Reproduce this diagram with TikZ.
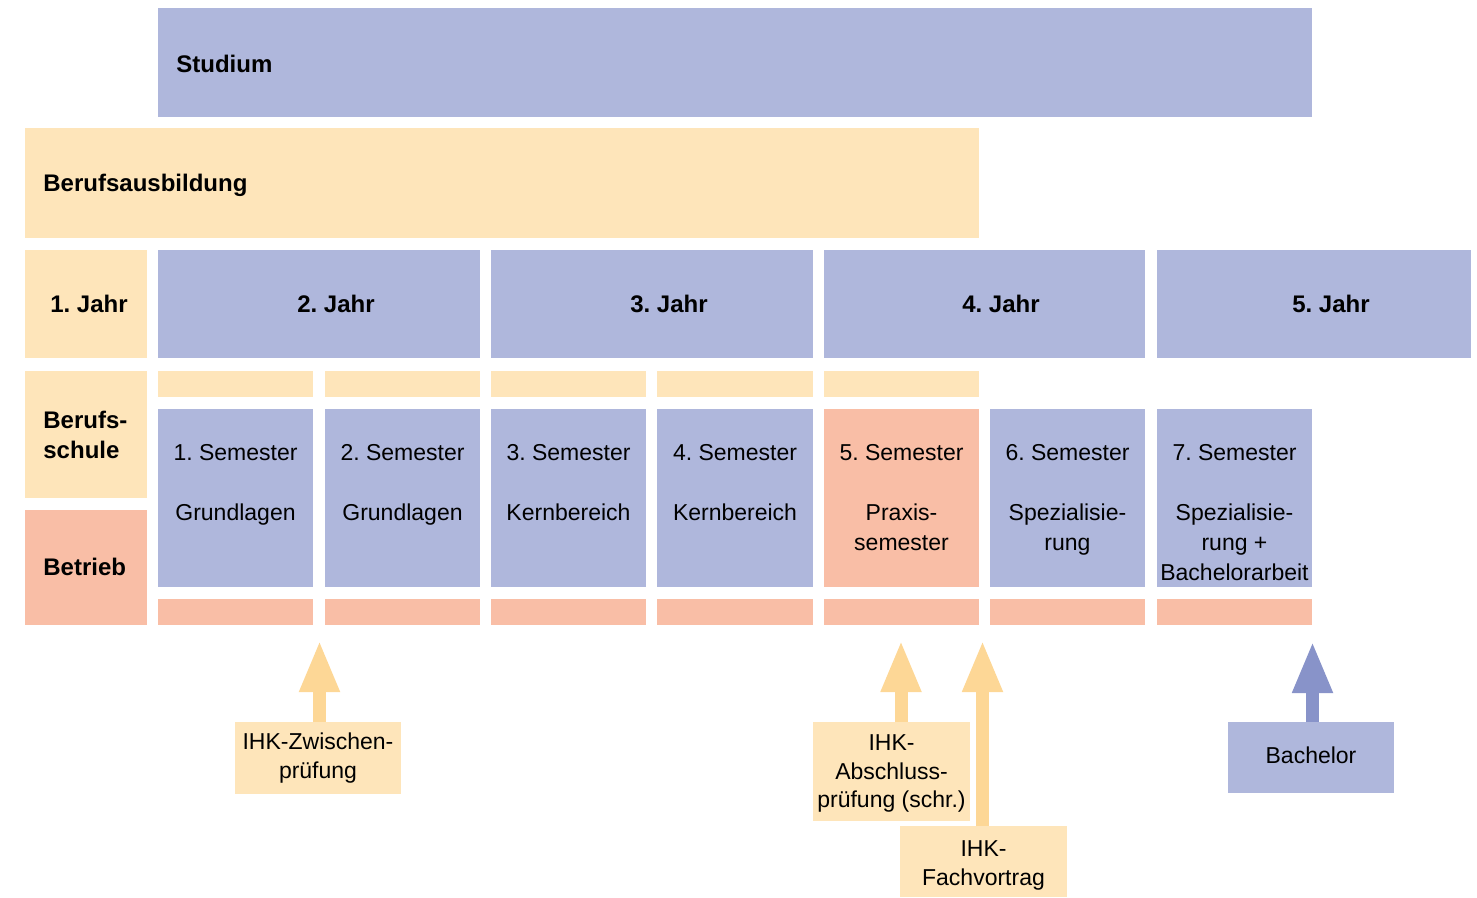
\documentclass[tikz,border=0pt]{standalone}
\usepackage{fontspec}
\setmainfont{Liberation Sans}
\usetikzlibrary{fit,arrows.meta}
\definecolor{blu}{HTML}{AFB7DC}
\definecolor{yel}{HTML}{FEE5BA}
\definecolor{sal}{HTML}{F9BEA6}
\definecolor{arrY}{HTML}{FDD796}
\definecolor{arrB}{HTML}{8893C9}
\newcommand\mybox[6]{\node[area, fill=#6, fit={(#2,#3) (#4,#5)}] (#1) {};}
\frenchspacing
\begin{document}
\begin{tikzpicture}[x=0.5pt,y=-0.5pt,
  area/.style={inner sep=0pt, outer sep=0pt, draw=none},
  boldlbl/.style={inner sep=0pt, font=\fontsize{12}{15}\selectfont\bfseries\frenchspacing, align=left},
  semtxt/.style={inner sep=0pt, font=\fontsize{11.5}{15}\selectfont\frenchspacing, align=center, anchor=north},
  lbltxt/.style={inner sep=0pt, font=\fontsize{11.5}{14.3}\selectfont\frenchspacing, align=center, anchor=north},
  yarrow/.style={draw=arrY, line width=6.5pt, -{Triangle[width=18.5pt,length=26pt]}},
  barrow/.style={draw=arrB, line width=6.5pt, -{Triangle[width=18.5pt,length=26pt]}}]
\useasboundingbox (0,0) rectangle (1477,898);

% top bands
\mybox{studium}{158}{8}{1312}{117}{blu}
\node[boldlbl, anchor=north west] (studiumt) at (176,51.5) {\strut Studium};
\mybox{ausb}{25}{128}{979}{238}{yel}
\node[boldlbl, anchor=north west] (ausbt) at (43,170) {\strut Berufsausbildung};

% years
\mybox{j1}{25}{250}{147}{358}{yel}
\mybox{j2}{158}{250}{480}{358}{blu}
\mybox{j3}{491}{250}{813}{358}{blu}
\mybox{j4}{824}{250}{1145}{358}{blu}
\mybox{j5}{1157}{250}{1471}{358}{blu}
\node[boldlbl, anchor=north] (j1t) at (89,291) {\strut 1. Jahr};
\node[boldlbl, anchor=north] (j2t) at (336,291) {\strut 2. Jahr};
\node[boldlbl, anchor=north] (j3t) at (669,291) {\strut 3. Jahr};
\node[boldlbl, anchor=north] (j4t) at (1001,291) {\strut 4. Jahr};
\node[boldlbl, anchor=north] (j5t) at (1331,291) {\strut 5. Jahr};

% left labels
\mybox{bs}{25}{371}{147}{498}{yel}
\node[boldlbl, anchor=north west] (bst) at (43,407) {\strut Berufs-\\schule};
\mybox{bt}{25}{510}{147}{625}{sal}
\node[boldlbl, anchor=north west] (btt) at (43,554) {\strut Betrieb};

% school bars
\mybox{y1}{158}{371}{313}{397}{yel}
\mybox{y2}{325}{371}{480}{397}{yel}
\mybox{y3}{491}{371}{646}{397}{yel}
\mybox{y4}{657}{371}{813}{397}{yel}
\mybox{y5}{824}{371}{979}{397}{yel}

% semesters
\mybox{s1}{158}{409}{313}{587}{blu}
\mybox{s2}{325}{409}{480}{587}{blu}
\mybox{s3}{491}{409}{646}{587}{blu}
\mybox{s4}{657}{409}{813}{587}{blu}
\mybox{s5}{824}{409}{979}{587}{sal}
\mybox{s6}{990}{409}{1145}{587}{blu}
\mybox{s7}{1157}{409}{1312}{587}{blu}
\node[semtxt] (s1t) at (235.5,439) {\strut 1. Semester\\[15pt] Grundlagen};
\node[semtxt] (s2t) at (402.5,439) {\strut 2. Semester\\[15pt] Grundlagen};
\node[semtxt] (s3t) at (568.5,439) {\strut 3. Semester\\[15pt] Kernbereich};
\node[semtxt] (s4t) at (735,439) {\strut 4. Semester\\[15pt] Kernbereich};
\node[semtxt] (s5t) at (901.5,439) {\strut 5. Semester\\[15pt] Praxis-\\semester};
\node[semtxt] (s6t) at (1067.5,439) {\strut 6. Semester\\[15pt] Spezialisie-\\rung};
\node[semtxt] (s7t) at (1234.5,439) {\strut 7. Semester\\[15pt] Spezialisie-\\rung +\\Bachelorarbeit};

% company bars
\mybox{b1}{158}{599}{313}{625}{sal}
\mybox{b2}{325}{599}{480}{625}{sal}
\mybox{b3}{491}{599}{646}{625}{sal}
\mybox{b4}{657}{599}{813}{625}{sal}
\mybox{b5}{824}{599}{979}{625}{sal}
\mybox{b6}{990}{599}{1145}{625}{sal}
\mybox{b7}{1157}{599}{1312}{625}{sal}

% exam boxes
\mybox{zw}{235}{722}{401}{794}{yel}
\node[lbltxt] (zwt) at (318,729) {\strut IHK-Zwischen-\\prüfung};
\mybox{ab}{813}{722}{970}{821}{yel}
\node[lbltxt] (abt) at (891.5,730) {\strut IHK-\\Abschluss-\\prüfung (schr.)};
\mybox{fv}{900}{826}{1067}{897}{yel}
\node[lbltxt] (fvt) at (983.5,836.5) {\strut IHK-\\Fachvortrag};
\mybox{ba}{1228}{722}{1394}{793}{blu}
\node[lbltxt] (bat) at (1311,743.4) {\strut Bachelor};

% arrow tips
\coordinate (tzw) at (319.5,640);
\coordinate (tab) at (901,640);
\coordinate (tfv) at (982.5,640);
\coordinate (tba) at (1312.5,641);
\draw[yarrow] (zw.north -| tzw) -- (tzw);
\draw[yarrow] (ab.north -| tab) -- (tab);
\draw[yarrow] (fv.north -| tfv) -- (tfv);
\draw[barrow] (ba.north -| tba) -- (tba);
\end{tikzpicture}
\end{document}
